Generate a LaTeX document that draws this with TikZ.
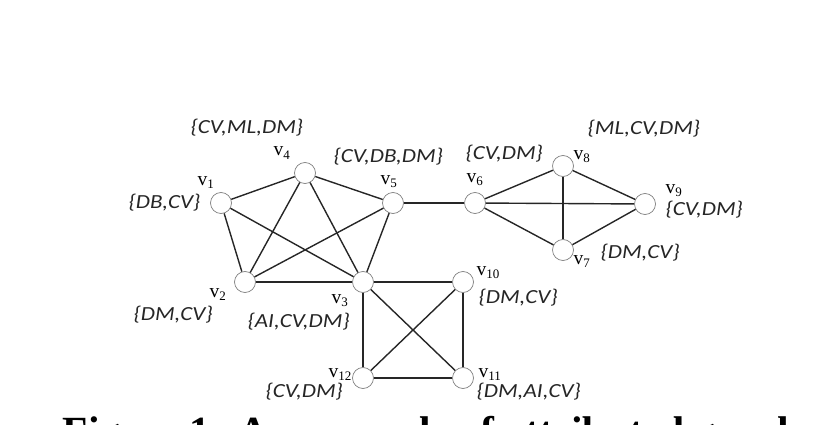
\documentclass[tikz,border=0pt]{standalone}
\usepackage{fontspec}
\setmainfont{Liberation Serif}
\newfontfamily\attrfont{Carlito}[FakeStretch=1.15]
\usetikzlibrary{positioning}
\def\rv{10.5pt}
\tikzstyle{vertex}=[draw=black!50,fill=white,circle,inner sep=0pt,minimum size=2*\rv,line width=0.7pt]
\tikzstyle{vname}=[inner sep=0pt,anchor=base west,font=\fontsize{19.5}{19.5}\selectfont]
\tikzstyle{attr}=[inner sep=0pt,anchor=base west,font=\attrfont\itshape\fontsize{20}{20}\selectfont,text=black!85]
\tikzstyle{caption}=[inner sep=0pt,anchor=base west,font=\bfseries\fontsize{41.5}{41.5}\selectfont]
\newcommand{\newVertex}[2]{\node[vertex](#1) at (#2) {};}
\newcommand{\newName}[3]{\node[vname](#1n) at (#2) {v\raisebox{-3.5pt}{\fontsize{13}{13}\selectfont #3}};}
\newcommand{\newAttr}[3]{\node[attr](#1a) at (#2) {\{#3\}};}
\newcommand{\newEdge}[2]{\draw (#1) -- (#2);}

\begin{document}
\begin{tikzpicture}[x=1pt,y=-1pt,
  line width=1.4pt,draw=black!85
  ]
  \useasboundingbox (0,0) rectangle (835,425);
  \clip (0,0) rectangle (835,425);
  % left pentagon
  \newVertex{v1}{221,203}
  \newVertex{v4}{305,173}
  \newVertex{v5}{393,203}
  \newVertex{v2}{245,282}
  \newVertex{v3}{363,282}
  % right diamond
  \newVertex{v6}{475,203}
  \newVertex{v8}{563,166}
  \newVertex{v9}{645,204}
  \newVertex{v7}{563,250}
  % bottom square
  \newVertex{v10}{463,282}
  \newVertex{v12}{363,378}
  \newVertex{v11}{463,378}
  \newEdge{v1}{v4}
  \newEdge{v4}{v5}
  \newEdge{v1}{v2}
  \newEdge{v1}{v3}
  \newEdge{v4}{v2}
  \newEdge{v4}{v3}
  \newEdge{v5}{v2}
  \newEdge{v5}{v3}
  \newEdge{v2}{v3}
  \newEdge{v5}{v6}
  \newEdge{v6}{v8}
  \newEdge{v6}{v9}
  \newEdge{v6}{v7}
  \newEdge{v8}{v9}
  \newEdge{v8}{v7}
  \newEdge{v7}{v9}
  \newEdge{v3}{v10}
  \newEdge{v3}{v12}
  \newEdge{v3}{v11}
  \newEdge{v10}{v12}
  \newEdge{v10}{v11}
  \newEdge{v12}{v11}
  \newName{v1}{197,185}{1}
  \newName{v4}{273,156}{4}
  \newName{v5}{380,184}{5}
  \newName{v2}{209,297}{2}
  \newName{v3}{331,303}{3}
  \newName{v6}{466,182}{6}
  \newName{v8}{573,159}{8}
  \newName{v9}{665,193}{9}
  \newName{v7}{573,264}{7}
  \newName{v10}{476,275}{10}
  \newName{v12}{328,377}{12}
  \newName{v11}{478,377}{11}
  \newAttr{v4}{190,134}{CV,ML,DM}
  \newAttr{v1}{128,208}{DB,CV}
  \newAttr{v5}{333,162}{CV,DB,DM}
  \newAttr{v2}{133,320}{DM,CV}
  \newAttr{v3}{247,327}{AI,CV,DM}
  \newAttr{v6}{465,160}{CV,DM}
  \newAttr{v8}{587,135}{ML,CV,DM}
  \newAttr{v9}{665,215}{CV,DM}
  \newAttr{v7}{600,258}{DM,CV}
  \newAttr{v10}{478,303}{DM,CV}
  \newAttr{v12}{265,397}{CV,DM}
  \newAttr{v11}{476,397}{DM,AI,CV}
  \node[caption](cap) at (62,445) {Figure 1: An example of attributed graph};
\end{tikzpicture}
\end{document}
